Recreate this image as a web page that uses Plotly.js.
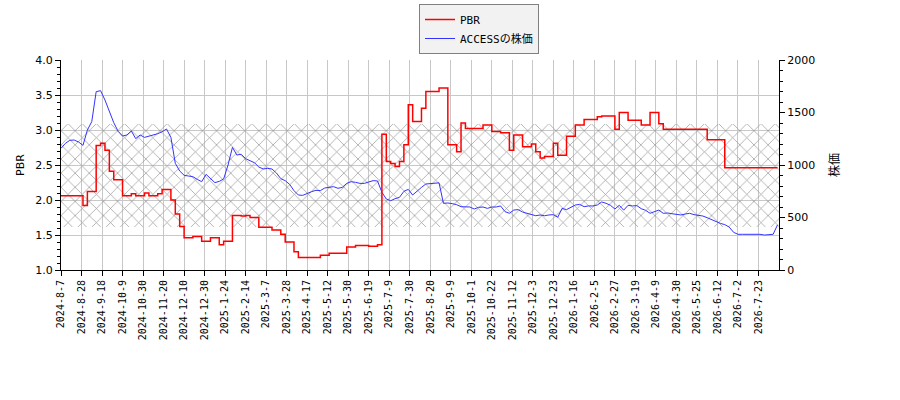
<!DOCTYPE html>
<html><head><meta charset="utf-8">
<script src="https://cdn.plot.ly/plotly-3.0.1.min.js"></script>
<style>html,body{margin:0;padding:0;background:#fff}#chart{width:900px;height:400px}</style>
</head><body><div id="chart"></div>
<script>
// Tick labels (one every 14 trading days)
const tickLabels = ['2024-8-7','2024-8-28','2024-9-18','2024-10-9','2024-10-30','2024-11-20','2024-12-10','2024-12-30',
 '2025-1-24','2025-2-14','2025-3-7','2025-3-28','2025-4-17','2025-5-12','2025-5-30','2025-6-19','2025-7-9','2025-7-30',
 '2025-8-20','2025-9-9','2025-10-1','2025-10-22','2025-11-12','2025-12-3','2025-12-23','2026-1-16','2026-2-5','2026-2-27',
 '2026-3-19','2026-4-9','2026-4-30','2026-5-25','2026-6-12','2026-7-2','2026-7-23'];
const daysPerTick = 14;
const daysPerSample = 3;
const totalDays = 490;

// PBR (left axis), sampled every 3 trading days
const pbr = [
 2.06,2.06,2.06,2.06,2.06,1.92,2.12,2.12,2.78,2.81,
 2.71,2.41,2.29,2.29,2.06,2.06,2.09,2.06,2.06,2.10,
 2.06,2.06,2.09,2.15,2.15,2.00,1.80,1.62,1.46,1.46,
 1.48,1.48,1.41,1.41,1.46,1.46,1.36,1.41,1.41,1.78,
 1.78,1.77,1.78,1.75,1.75,1.61,1.61,1.61,1.57,1.57,
 1.51,1.40,1.40,1.26,1.18,1.18,1.18,1.18,1.18,1.21,
 1.21,1.24,1.24,1.24,1.24,1.33,1.33,1.35,1.35,1.35,
 1.34,1.34,1.36,2.94,2.55,2.52,2.48,2.55,2.79,3.36,
 3.12,3.12,3.31,3.55,3.55,3.55,3.60,3.60,2.79,2.79,
 2.69,3.10,3.02,3.02,3.02,3.02,3.07,3.07,2.98,2.98,
 2.96,2.96,2.71,2.93,2.93,2.76,2.76,2.80,2.69,2.60,
 2.62,2.62,2.81,2.64,2.64,2.91,2.91,3.07,3.07,3.15,
 3.15,3.15,3.19,3.20,3.20,3.20,3.01,3.25,3.25,3.14,
 3.14,3.14,3.07,3.07,3.25,3.25,3.09,3.01,3.01,3.01,
 3.01,3.01,3.01,3.01,3.01,3.01,3.01,2.86,2.86,2.86,
 2.86,2.46,2.46,2.46,2.46,2.46,2.46,2.46,2.46,2.46,
 2.46,2.46,2.46,2.46];

// ACCESS share price (right axis), sampled every 3 trading days
const price = [
 1159,1206,1235,1238,1219,1187,1333,1413,1698,1708,
 1619,1508,1403,1321,1276,1286,1324,1251,1286,1263,
 1273,1286,1298,1317,1343,1263,1016,943,902,895,
 889,863,841,911,873,832,844,867,1000,1168,
 1095,1102,1060,1038,1022,981,962,968,962,924,
 870,851,816,756,714,711,730,746,759,756,
 781,784,794,778,787,825,841,835,825,825,
 835,851,848,740,676,660,679,692,749,768,
 714,746,787,819,822,825,830,635,638,632,
 622,603,603,600,581,597,600,587,600,600,
 610,556,540,571,575,552,540,527,517,524,
 517,524,527,502,587,575,594,619,625,603,
 610,610,619,648,635,616,581,616,570,616,
 610,613,584,568,540,559,571,540,543,536,
 533,524,533,540,527,521,514,498,479,460,
 444,432,409,359,340,340,340,340,343,340,
 333,340,340,430];

// Hatched price band (right-axis units)
const bandLow = 410;
const bandHigh = 1390;

const band = {
  x: [0, totalDays, totalDays, 0], y: [bandLow, bandLow, bandHigh, bandHigh],
  yaxis: 'y', mode: 'lines', fill: 'toself', line: {width: 0, color: 'rgba(0,0,0,0)'},
  fillcolor: 'rgba(0,0,0,0)',
  fillpattern: {shape: 'x', size: 10, solidity: 0.14, fgcolor: '#999999', bgcolor: 'rgba(0,0,0,0)'},
  showlegend: false, hoverinfo: 'skip'
};
const priceTrace = {
  y: price, x0: 0, dx: daysPerSample, yaxis: 'y', mode: 'lines', name: 'ACCESSの株価',
  line: {color: '#3333ff', width: 1}, legendrank: 2
};
const pbrTrace = {
  y: pbr, x0: 0, dx: daysPerSample, yaxis: 'y2', mode: 'lines', name: 'PBR',
  line: {color: '#ff0000', width: 1.5, shape: 'hv'}, legendrank: 1
};

const tickFont = {family: 'DejaVu Sans, sans-serif', size: 11, color: '#000'};
const layout = {
  width: 900, height: 400,
  margin: {l: 61, r: 121, t: 60, b: 130, autoexpand: false},
  paper_bgcolor: '#fff', plot_bgcolor: '#fff',
  showlegend: true,
  legend: {x: (419-61)/718, y: (270-4)/210, xanchor: 'left', yanchor: 'top',
    bgcolor: '#f2f2f2', bordercolor: '#808080', borderwidth: 1,
    font: {family: 'DejaVu Sans Mono, Noto Sans CJK JP, monospace', size: 11, color: '#000'}},
  xaxis: {
    type: 'linear', range: [0, totalDays], automargin: false,
    tickmode: 'array', tickvals: tickLabels.map((_, i) => i * daysPerTick), ticktext: tickLabels,
    tickangle: -90, ticks: 'outside', ticklen: 5, tickcolor: '#000',
    tickfont: {family: 'DejaVu Sans Mono, monospace', size: 10, color: '#000'},
    showgrid: true, gridcolor: '#c8c8c8', gridwidth: 1,
    showline: true, linecolor: '#000', linewidth: 1, zeroline: false
  },
  yaxis: {
    side: 'right', range: [0, 2000], dtick: 500, ticks: 'outside', ticklen: 5, tickcolor: '#000',
    minor: {dtick: 100, ticks: 'outside', ticklen: 3, tickcolor: '#000', showgrid: false},
    tickfont: tickFont, showgrid: false, zeroline: false, automargin: false,
    showline: true, linecolor: '#000', linewidth: 1,
    title: {text: '株価', font: {family: 'Noto Sans CJK JP, sans-serif', size: 12, color: '#000'}, standoff: 16}
  },
  yaxis2: {
    overlaying: 'y', side: 'left', range: [1, 4], dtick: 0.5, tickformat: '.1f', automargin: false,
    ticks: 'outside', ticklen: 5, tickcolor: '#000',
    minor: {dtick: 0.1, ticks: 'outside', ticklen: 3, tickcolor: '#000', showgrid: false},
    tickfont: tickFont, showgrid: true, gridcolor: '#c8c8c8', gridwidth: 1, zeroline: false,
    showline: true, linecolor: '#000', linewidth: 1,
    title: {text: 'PBR', font: {family: 'DejaVu Sans, sans-serif', size: 11, color: '#000'}, standoff: 8}
  }
};
Plotly.newPlot('chart', [band, priceTrace, pbrTrace], layout, {staticPlot: true});
</script></body></html>
